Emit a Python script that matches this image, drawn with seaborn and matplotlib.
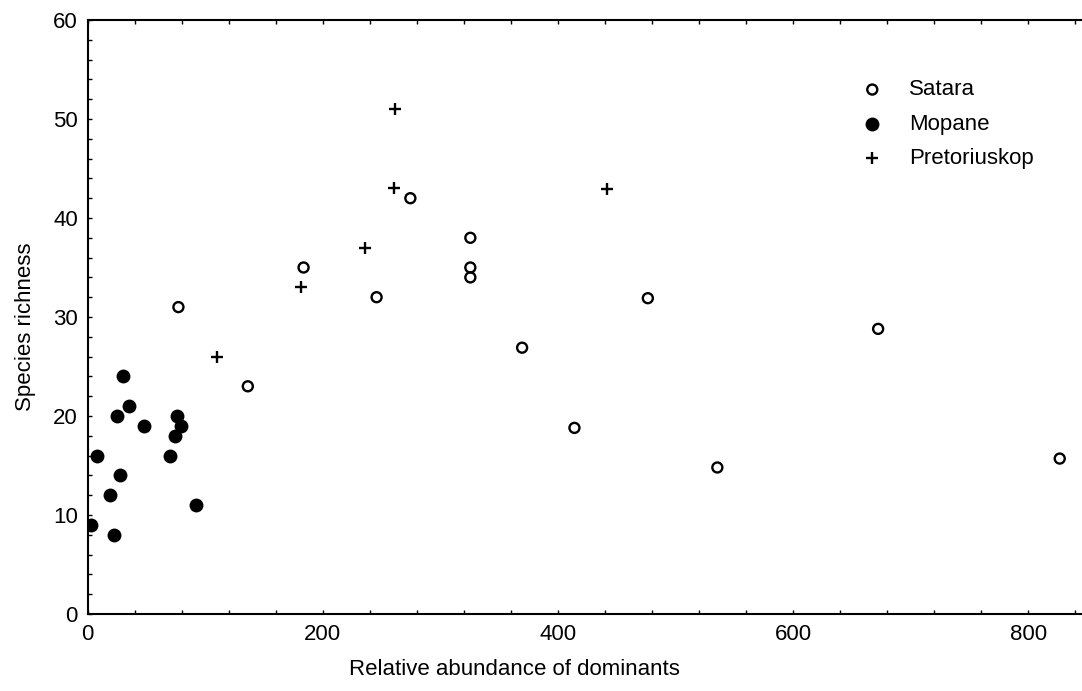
import matplotlib
matplotlib.use("Agg")
import matplotlib.pyplot as plt
from matplotlib.ticker import MultipleLocator
import numpy as np
import pandas as pd
import seaborn as sns

# Species richness against relative abundance of dominant species, three regions
satara_x = [136.3, 274.5, 325.5, 325.5, 325.5, 183.7, 245.8, 77.3, 476.4, 369.5, 414.0, 535.5, 672.2, 826.6]
satara_y = [23.0, 42.0, 38.0, 35.0, 34.0, 35.0, 32.0, 31.0, 31.9, 26.9, 18.8, 14.8, 28.8, 15.7]

mopane_x = [30.0, 25.1, 35.3, 48.1, 75.9, 79.8, 74.7, 70.5, 7.8, 27.7, 19.1, 92.1, 2.7, 22.6]
mopane_y = [24.0, 20.0, 21.0, 19.0, 20.0, 19.0, 18.0, 16.0, 16.0, 14.0, 12.0, 11.0, 9.0, 8.0]

pretoriuskop_x = [110.0, 261.7, 260.3, 236.2, 181.4, 441.9]
pretoriuskop_y = [26.0, 51.0, 43.0, 37.0, 33.0, 42.9]

regions = ["Satara", "Mopane", "Pretoriuskop"]
x_ticks = [0, 200, 400, 600, 800]
y_ticks = [0, 10, 20, 30, 40, 50, 60]

df = pd.DataFrame({
    "abundance": satara_x + mopane_x + pretoriuskop_x,
    "richness": satara_y + mopane_y + pretoriuskop_y,
    "region": (["Satara"] * len(satara_x) + ["Mopane"] * len(mopane_x)
               + ["Pretoriuskop"] * len(pretoriuskop_x)),
})

sns.set_theme(style="ticks")
plt.rcParams["font.family"] = ["Liberation Sans", "DejaVu Sans"]

W, H = 1082, 691
fig = plt.figure(figsize=(W / 100, H / 100), dpi=100)
left_px, bottom_px, top_px = 87.5, 614, 20
ax = fig.add_axes([left_px / W, (H - bottom_px) / H,
                   (W - left_px + 1) / W, (bottom_px - top_px) / H])

styles = {
    "Satara": dict(marker="o", s=52, facecolor="none", edgecolor="black", linewidth=1.7),
    "Mopane": dict(marker="o", s=100, color="black", edgecolor="black", linewidth=0),
    "Pretoriuskop": dict(marker="+", s=85, color="black", linewidth=1.7),
}
for reg in regions:
    sub = df[df["region"] == reg]
    sns.scatterplot(data=sub, x="abundance", y="richness", ax=ax, label=reg,
                    zorder=3, **styles[reg])

ax.set_xlim(0, (W - left_px) / 1.175)
ax.set_ylim(0, 60)
ax.set_xticks(x_ticks)
ax.set_yticks(y_ticks)
ax.xaxis.set_minor_locator(MultipleLocator(40))
ax.yaxis.set_minor_locator(MultipleLocator(2))
ax.tick_params(which="both", direction="in", length=3, width=1, color="black",
               top=True, right=False, labelsize=16, pad=7, labelcolor="black")

for side in ["left", "bottom", "top"]:
    ax.spines[side].set_linewidth(1.5)
    ax.spines[side].set_color("black")
ax.spines["right"].set_visible(False)

ax.set_xlabel("Relative abundance of dominants", fontsize=16, color="black")
ax.set_ylabel("Species richness", fontsize=16, color="black")
ax.xaxis.set_label_coords(0.429, -0.075)
ax.yaxis.set_label_coords(-0.052, 0.484)

leg = ax.legend(loc="upper left", bbox_to_anchor=(0.766, 0.915), frameon=False,
                fontsize=16, handletextpad=1.05, labelspacing=0.6,
                handlelength=1.2, borderaxespad=0)
for t in leg.get_texts():
    t.set_color("black")

fig.savefig("out.png", dpi=100, facecolor="white")
